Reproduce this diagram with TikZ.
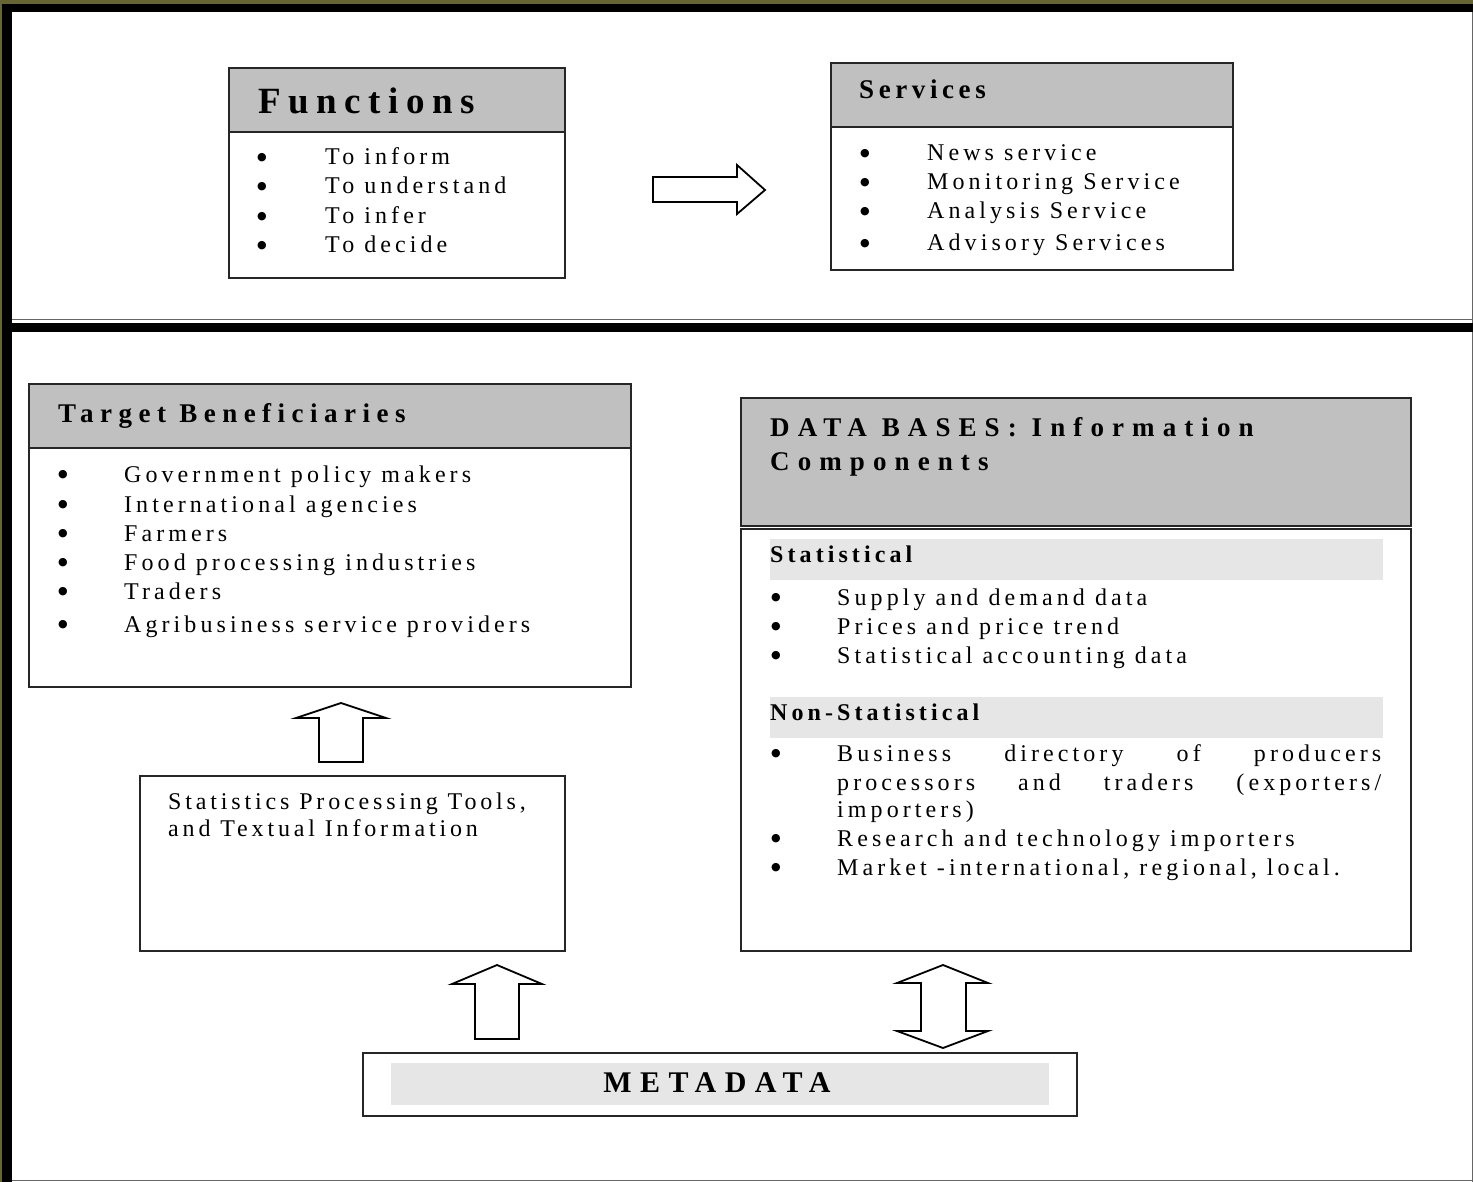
\documentclass[tikz,border=0pt]{standalone}
\usepackage{fontspec}
\setmainfont{Liberation Serif}
\newfontfamily\bodyf[LetterSpace=17]{Liberation Serif}
\newfontfamily\toolf[LetterSpace=16]{Liberation Serif}
\newfontfamily\headf[LetterSpace=24]{Liberation Serif}
\newfontfamily\headfs[LetterSpace=17]{Liberation Serif}
\newfontfamily\subf[LetterSpace=17]{Liberation Serif}
\newfontfamily\dbf[LetterSpace=30]{Liberation Serif}
\newfontfamily\funcf[LetterSpace=20.6]{Liberation Serif}
\newfontfamily\metaf[LetterSpace=28]{Liberation Serif}
\newfontfamily\symf{DejaVu Sans}
\definecolor{olivebd}{RGB}{102,102,51}
\definecolor{hdrgray}{RGB}{192,192,192}
\definecolor{bandgray}{RGB}{230,230,230}
\tikzset{
  txt/.style={anchor=base west, inner sep=0pt, font=\bodyf\fontsize{24}{29}\selectfont},
  tooltxt/.style={anchor=base west, inner sep=0pt, font=\toolf\fontsize{24}{29}\selectfont},
  bul/.style={anchor=center, inner sep=0pt, font=\symf\fontsize{11}{12}\selectfont},
  hdtitle/.style={anchor=base west, inner sep=0pt, font=\headf\bfseries\fontsize{27}{32}\selectfont},
  hdtitles/.style={anchor=base west, inner sep=0pt, font=\headfs\bfseries\fontsize{27}{32}\selectfont},
  subtitle/.style={anchor=base west, inner sep=0pt, font=\subf\bfseries\fontsize{24}{29}\selectfont},
  dbtitle/.style={anchor=base west, inner sep=0pt, font=\dbf\bfseries\fontsize{27}{32}\selectfont},
  boxline/.style={draw=black!85, line width=1.8pt},
  hdrfill/.style={fill=hdrgray},
  band/.style={fill=bandgray},
  blockarrow/.style={draw=black, line width=1.8pt, fill=white, line join=miter},
}
\begin{document}
\begin{tikzpicture}[x=1pt,y=-1pt]
\useasboundingbox (0,0) rectangle (1473,1182);
% outer frame
\fill[white] (0,0) rectangle (1473,1182);
\fill[olivebd] (0,0) rectangle (1473,4);
\fill[olivebd] (0,0) rectangle (2,1182);
\fill[black] (2,4) rectangle (1473,12);
\fill[black] (2,4) rectangle (12,1182);
\draw[black!60, line width=1.4pt] (1472.3,12) -- (1472.3,1182);
\draw[black!60, line width=1.4pt] (12,1180.6) -- (1473,1180.6);
% divider
\draw[black!60, line width=1.2pt] (12,319.6) -- (1473,319.6);
\fill[black] (12,322.7) rectangle (1473,332.3);

% Functions box
\filldraw[boxline, hdrfill] (229,68) rectangle (565,132);
\draw[boxline] (229,132) rectangle (565,278);
\node[anchor=base west, inner sep=0pt, font=\funcf\bfseries\fontsize{37}{44}\selectfont] (ftitle) at (258,114) {Functions};
\foreach \yy/\tt [count=\i] in {165/To inform, 194/To understand, 224/To infer, 253/To decide}{
  \node[bul] (fb\i) at (262,\yy-7) {●};
  \node[txt] (ft\i) at (325,\yy) {\tt};
}

% Services box
\filldraw[boxline, hdrfill] (831,63) rectangle (1233,127);
\draw[boxline] (831,127) rectangle (1233,270);
\node[hdtitles] (stitle) at (859,99) {Services};
\foreach \yy/\tt [count=\i] in {161/News service, 190/Monitoring Service, 219/Analysis Service, 251/Advisory Services}{
  \node[bul] (sb\i) at (865,\yy-7) {●};
  \node[txt] (st\i) at (927,\yy) {\tt};
}

% arrow Functions -> Services
\draw[blockarrow] (653,177) -- (737,177) -- (737,165) -- (765,190) -- (737,214) -- (737,202) -- (653,202) -- cycle;

% Target Beneficiaries
\filldraw[boxline, hdrfill] (29,384) rectangle (631,448);
\draw[boxline] (29,448) rectangle (631,687);
\node[hdtitle] (ttitle) at (58,422) {Target Beneficiaries};
\foreach \yy/\tt [count=\i] in {482/Government policy makers, 512/International agencies, 541/Farmers, 570/Food processing industries, 599/Traders, 632/Agribusiness service providers}{
  \node[bul] (tb\i) at (63,\yy-7) {●};
  \node[txt] (tt\i) at (124,\yy) {\tt};
}

% up arrow 1
\draw[blockarrow] (341,703) -- (386,718) -- (363,718) -- (363,762) -- (319,762) -- (319,718) -- (296,718) -- cycle;

% Statistics Processing Tools box
\draw[boxline] (140,776) rectangle (565,951);
\node[tooltxt] (tool1) at (168,809) {Statistics Processing Tools,};
\node[tooltxt] (tool2) at (168,836) {and Textual Information};

% up arrow 2
\draw[blockarrow] (497,965) -- (542,984) -- (519,984) -- (519,1039) -- (475,1039) -- (475,984) -- (452,984) -- cycle;

% Data bases
\filldraw[boxline, hdrfill] (741,398) rectangle (1411,526);
\draw[boxline] (741,529) rectangle (1411,951);
\node[dbtitle] (dbt1) at (770,436) {DATA BASES: Information};
\node[dbtitle] (dbt2) at (770,470) {Components};
\fill[band] (770,539) rectangle (1383,580);
\node[subtitle] (stat) at (770,562) {Statistical};
\foreach \yy/\tt [count=\i] in {605/Supply and demand data, 634/Prices and price trend, 663/Statistical accounting data}{
  \node[bul] (db\i) at (776,\yy-7) {●};
  \node[txt] (dt\i) at (837,\yy) {\tt};
}
\fill[band] (770,697) rectangle (1383,738);
\node[subtitle] (nstat) at (770,720) {Non-Statistical};
\node[bul] (nb1) at (776,761-7) {●};
\node[txt] (nt1) at (837,761) {\makebox[544pt][l]{Business\hfill directory\hfill of\hfill producers}};
\node[txt] (nt1b) at (837,790) {\makebox[544pt][l]{processors\hfill and\hfill traders\hfill (exporters/}};
\node[txt] (nt1c) at (837,817) {importers)};
\node[bul] (nb2) at (776,846-7) {●};
\node[txt] (nt2) at (837,846) {Research and technology importers};
\node[bul] (nb3) at (776,875-7) {●};
\node[txt] (nt3) at (837,875) {Market -international, regional, local.};

% double arrow
\draw[blockarrow] (943,965) -- (988,983) -- (966,983) -- (966,1031) -- (988,1031) -- (943,1048) -- (897,1031) -- (921,1031) -- (921,983) -- (897,983) -- cycle;

% METADATA
\draw[boxline] (363,1053) rectangle (1077,1116);
\fill[band] (391,1063) rectangle (1049,1105);
\node[anchor=base, inner sep=0pt, font=\metaf\bfseries\fontsize{30}{36}\selectfont] (meta) at (717,1092) {METADATA};
\end{tikzpicture}
\end{document}
